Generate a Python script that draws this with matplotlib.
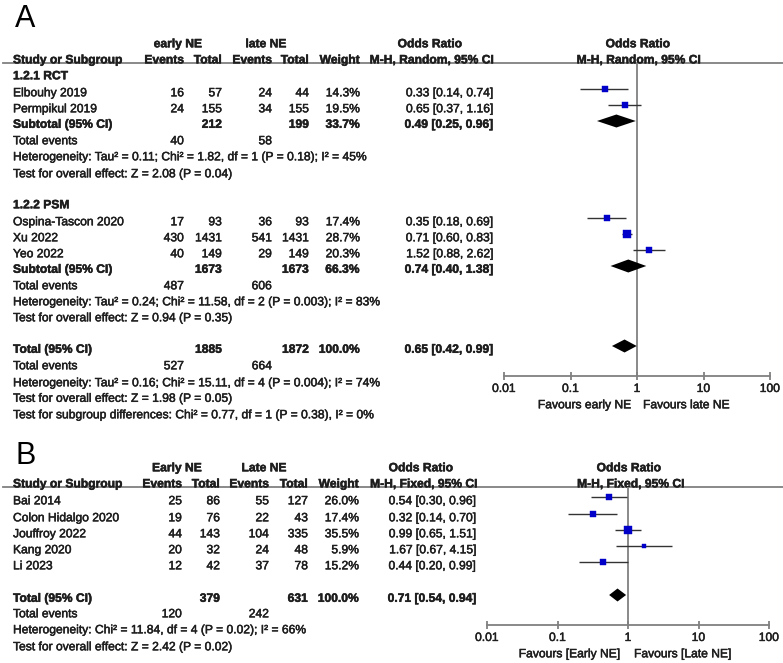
import matplotlib
matplotlib.use('Agg')
import matplotlib.pyplot as plt
import matplotlib.patheffects as pe
from matplotlib.ticker import NullLocator, FixedLocator, FixedFormatter

plt.rcParams['font.family'] = ['Liberation Sans', 'DejaVu Sans']

# ---------------- DATA : panel A ----------------
a1_names = ["Elbouhy 2019", "Permpikul 2019"]
a1_ev_e = [16, 24]
a1_tot_e = [57, 155]
a1_ev_l = [24, 34]
a1_tot_l = [44, 155]
a1_w = [14.3, 19.5]
a1_or = [0.33, 0.65]
a1_lo = [0.14, 0.37]
a1_hi = [0.74, 1.16]
a1_sub_tot = [212, 199]
a1_sub_w = 33.7
a1_sub_ci = [0.49, 0.25, 0.96]
a1_events = [40, 58]
a1_het = "Heterogeneity: Tau² = 0.11; Chi² = 1.82, df = 1 (P = 0.18); I² = 45%"
a1_z = "Test for overall effect: Z = 2.08 (P = 0.04)"

a2_names = ["Ospina-Tascon 2020", "Xu 2022", "Yeo 2022"]
a2_ev_e = [17, 430, 40]
a2_tot_e = [93, 1431, 149]
a2_ev_l = [36, 541, 29]
a2_tot_l = [93, 1431, 149]
a2_w = [17.4, 28.7, 20.3]
a2_or = [0.35, 0.71, 1.52]
a2_lo = [0.18, 0.60, 0.88]
a2_hi = [0.69, 0.83, 2.62]
a2_sub_tot = [1673, 1673]
a2_sub_w = 66.3
a2_sub_ci = [0.74, 0.40, 1.38]
a2_events = [487, 606]
a2_het = "Heterogeneity: Tau² = 0.24; Chi² = 11.58, df = 2 (P = 0.003); I² = 83%"
a2_z = "Test for overall effect: Z = 0.94 (P = 0.35)"

a_tot = [1885, 1872]
a_tot_w = 100.0
a_tot_ci = [0.65, 0.42, 0.99]
a_events = [527, 664]
a_het = "Heterogeneity: Tau² = 0.16; Chi² = 15.11, df = 4 (P = 0.004); I² = 74%"
a_z = "Test for overall effect: Z = 1.98 (P = 0.05)"
a_sub = "Test for subgroup differences: Chi² = 0.77, df = 1 (P = 0.38), I² = 0%"

# ---------------- DATA : panel B ----------------
b_names = ["Bai 2014", "Colon Hidalgo 2020", "Jouffroy 2022", "Kang 2020", "Li 2023"]
b_ev_e = [25, 19, 44, 20, 12]
b_tot_e = [86, 76, 143, 32, 42]
b_ev_l = [55, 22, 104, 24, 37]
b_tot_l = [127, 43, 335, 48, 78]
b_w = [26.0, 17.4, 35.5, 5.9, 15.2]
b_or = [0.54, 0.32, 0.99, 1.67, 0.44]
b_lo = [0.30, 0.14, 0.65, 0.67, 0.20]
b_hi = [0.96, 0.70, 1.51, 4.15, 0.99]
b_tot = [379, 631]
b_tot_w = 100.0
b_tot_ci = [0.71, 0.54, 0.94]
b_events = [120, 242]
b_het = "Heterogeneity: Chi² = 11.84, df = 4 (P = 0.02); I² = 66%"
b_z = "Test for overall effect: Z = 2.42 (P = 0.02)"

ticks = [0.01, 0.1, 1, 10, 100]
tick_labels = ["0.01", "0.1", "1", "10", "100"]

# ---------------- FIGURE ----------------
W, H = 783, 663
fig = plt.figure(figsize=(W / 100, H / 100), dpi=100)
bg = fig.add_axes([0, 0, 1, 1])
bg.set_xlim(0, W)
bg.set_ylim(H, 0)
bg.axis('off')

TXT = '#1e1e1e'
GRAY = '#808080'
BLUE = '#0000c8'
FS = 8.7
STROKE = [pe.withStroke(linewidth=0.35, foreground=TXT)]


def t(x, y, s, ha='left', bold=False, fs=FS):
    bg.text(x, y + 4.3, s, ha=ha, va='baseline', fontsize=fs,
            fontweight='bold' if bold else 'normal', color=TXT,
            path_effects=STROKE)


def fmt_ci(v):
    return f"{v[0]:.2f} [{v[1]:.2f}, {v[2]:.2f}]"


def forest_axes(x0, x1, ytop, ybot):
    ax = fig.add_axes([x0 / W, (H - ybot) / H, (x1 - x0) / W, (ybot - ytop) / H])
    ax.set_xscale('log')
    ax.set_xlim(0.01, 100)
    ax.set_ylim(ybot, ytop)
    ax.patch.set_alpha(0)
    for s in ['top', 'left', 'right']:
        ax.spines[s].set_visible(False)
    ax.spines['bottom'].set_color(GRAY)
    ax.spines['bottom'].set_linewidth(1.3)
    ax.xaxis.set_major_locator(FixedLocator(ticks))
    ax.xaxis.set_major_formatter(FixedFormatter(tick_labels))
    ax.xaxis.set_minor_locator(NullLocator())
    ax.tick_params(axis='x', direction='inout', length=6, width=1.3, color=GRAY,
                   labelsize=FS, labelcolor=TXT, pad=2)
    for lab in ax.get_xticklabels():
        lab.set_path_effects(STROKE)
    ax.set_yticks([])
    ax.axvline(1, color=GRAY, lw=1.3, zorder=1)
    return ax


def square(ax, y, o, lo, hi, w):
    side = 1.33 * w ** 0.5
    ax.hlines(y - 3, lo, hi, color='#333333', lw=1.0, zorder=2)
    ax.plot([o], [y - 3], marker='s', ms=side * 0.72, color=BLUE, mec=BLUE, mew=0.3, zorder=3)


def diamond(ax, y, ci):
    o, lo, hi = ci
    ax.fill([lo, o, hi, o], [y - 2.5, y - 9, y - 2.5, y + 4], color='black', lw=0, zorder=3)


# ---------------- PANEL A ----------------
bg.text(15, 27, "A", fontsize=22, color='black', va='baseline')
colA = dict(ev_e=184, tot_e=222, ev_l=272, tot_l=309, w=360, ci=494)

t(178, 43, "early NE", ha='center', bold=True)
t(266, 43, "late NE", ha='center', bold=True)
t(430, 43, "Odds Ratio", ha='center', bold=True)
t(638, 43, "Odds Ratio", ha='center', bold=True)
t(13, 59, "Study or Subgroup", bold=True)
t(colA['ev_e'], 59, "Events", ha='right', bold=True)
t(colA['tot_e'], 59, "Total", ha='right', bold=True)
t(colA['ev_l'], 59, "Events", ha='right', bold=True)
t(colA['tot_l'], 59, "Total", ha='right', bold=True)
t(colA['w'], 59, "Weight", ha='right', bold=True)
t(432, 59, "M-H, Random, 95% CI", ha='center', bold=True)
t(639, 59, "M-H, Random, 95% CI", ha='center', bold=True)
bg.plot([3, W], [63, 63], color=GRAY, lw=1.3)

axA = forest_axes(504, 770, 63, 376)


def study_rows(ax, col, ys, names, ev_e, tot_e, ev_l, tot_l, w, o, lo, hi):
    for i, y in enumerate(ys):
        t(13, y, names[i])
        t(col['ev_e'], y, str(ev_e[i]), ha='right')
        t(col['tot_e'], y, str(tot_e[i]), ha='right')
        t(col['ev_l'], y, str(ev_l[i]), ha='right')
        t(col['tot_l'], y, str(tot_l[i]), ha='right')
        t(col['w'], y, f"{w[i]:.1f}%", ha='right')
        t(col['ci'], y, fmt_ci([o[i], lo[i], hi[i]]), ha='right')
        square(ax, y, o[i], lo[i], hi[i], w[i])


def total_row(ax, col, y, label, tots, w, ci):
    t(13, y, label, bold=True)
    t(col['tot_e'], y, str(tots[0]), ha='right', bold=True)
    t(col['tot_l'], y, str(tots[1]), ha='right', bold=True)
    t(col['w'], y, f"{w:.1f}%", ha='right', bold=True)
    t(col['ci'], y, fmt_ci(ci), ha='right', bold=True)
    diamond(ax, y, ci)


def events_row(col, y, ev):
    t(13, y, "Total events")
    t(col['ev_e'], y, str(ev[0]), ha='right')
    t(col['ev_l'], y, str(ev[1]), ha='right')


t(13, 75, "1.2.1 RCT", bold=True)
study_rows(axA, colA, [92, 108], a1_names, a1_ev_e, a1_tot_e, a1_ev_l, a1_tot_l,
           a1_w, a1_or, a1_lo, a1_hi)
total_row(axA, colA, 123.5, "Subtotal (95% CI)", a1_sub_tot, a1_sub_w, a1_sub_ci)
events_row(colA, 140, a1_events)
t(13, 156, a1_het)
t(13, 173, a1_z)

t(13, 204, "1.2.2 PSM", bold=True)
study_rows(axA, colA, [221, 237, 253], a2_names, a2_ev_e, a2_tot_e, a2_ev_l, a2_tot_l,
           a2_w, a2_or, a2_lo, a2_hi)
total_row(axA, colA, 268.5, "Subtotal (95% CI)", a2_sub_tot, a2_sub_w, a2_sub_ci)
events_row(colA, 285, a2_events)
t(13, 301, a2_het)
t(13, 317, a2_z)

total_row(axA, colA, 348.5, "Total (95% CI)", a_tot, a_tot_w, a_tot_ci)
events_row(colA, 365, a_events)
t(13, 382, a_het)
t(13, 397.5, a_z)
t(13, 414, a_sub)

t(632, 404, "Favours early NE", ha='right')
t(643, 404, "Favours late NE", ha='left')

# ---------------- PANEL B ----------------
bg.text(15, 464, "B", fontsize=22, color='black', va='baseline')
colB = dict(ev_e=182, tot_e=220, ev_l=269, tot_l=308, w=359, ci=477)

t(177, 467, "Early NE", ha='center', bold=True)
t(264, 467, "Late NE", ha='center', bold=True)
t(421, 467, "Odds Ratio", ha='center', bold=True)
t(629, 467, "Odds Ratio", ha='center', bold=True)
t(13, 483, "Study or Subgroup", bold=True)
t(colB['ev_e'], 483, "Events", ha='right', bold=True)
t(colB['tot_e'], 483, "Total", ha='right', bold=True)
t(colB['ev_l'], 483, "Events", ha='right', bold=True)
t(colB['tot_l'], 483, "Total", ha='right', bold=True)
t(colB['w'], 483, "Weight", ha='right', bold=True)
t(424, 483, "M-H, Fixed, 95% CI", ha='center', bold=True)
t(631, 483, "M-H, Fixed, 95% CI", ha='center', bold=True)
bg.plot([3, W], [487, 487], color=GRAY, lw=1.3)

axB = forest_axes(487, 769, 487, 625)
study_rows(axB, colB, [500, 517, 533, 549, 565], b_names, b_ev_e, b_tot_e, b_ev_l, b_tot_l,
           b_w, b_or, b_lo, b_hi)
total_row(axB, colB, 597.5, "Total (95% CI)", b_tot, b_tot_w, b_tot_ci)
events_row(colB, 613, b_events)
t(13, 629, b_het)
t(13, 646, b_z)

t(621, 653, "Favours [Early NE]", ha='right')
t(634, 653, "Favours [Late NE]", ha='left')

fig.savefig("out.png", dpi=100)
